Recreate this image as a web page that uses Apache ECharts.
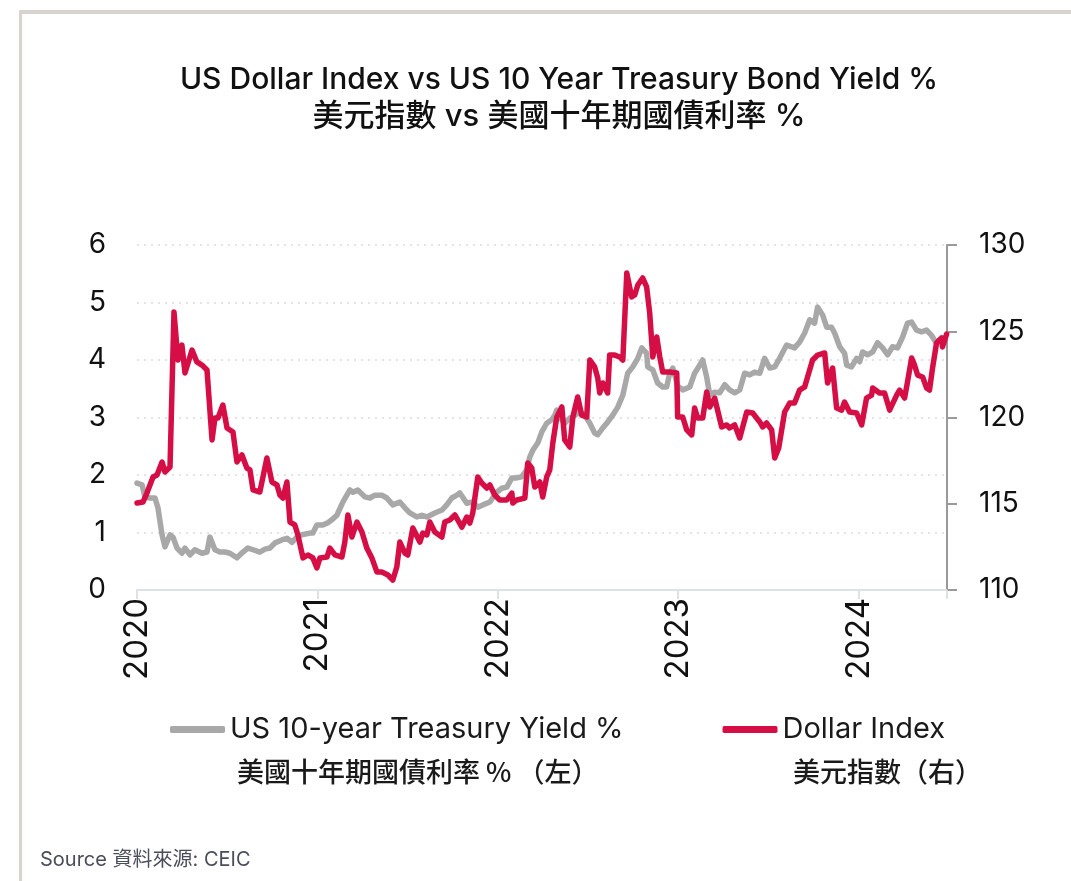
<!DOCTYPE html>
<html>
<head>
<meta charset="utf-8">
<script src="https://cdn.jsdelivr.net/npm/echarts@6/dist/echarts.min.js"></script>
<style>
  html, body { margin: 0; padding: 0; background: #fff; }
  #chart { width: 1071px; height: 881px; }
</style>
</head>
<body>
<div id="chart"></div>
<script>
// decimal-year positions and values
var yieldYears = [2020.000, 2020.028, 2020.044, 2020.072, 2020.100, 2020.116, 2020.139, 2020.155, 2020.183, 2020.199,
    2020.222, 2020.249, 2020.266, 2020.294, 2020.321, 2020.360, 2020.388, 2020.404, 2020.432, 2020.460,
    2020.488, 2020.515, 2020.554, 2020.587, 2020.615, 2020.643, 2020.681, 2020.709, 2020.737, 2020.765,
    2020.803, 2020.831, 2020.859, 2020.886, 2020.914, 2020.958, 2020.975, 2020.997, 2021.030, 2021.058,
    2021.080, 2021.108, 2021.141, 2021.180, 2021.197, 2021.224, 2021.263, 2021.291, 2021.319, 2021.357,
    2021.385, 2021.418, 2021.457, 2021.485, 2021.512, 2021.551, 2021.579, 2021.607, 2021.651, 2021.690,
    2021.717, 2021.745, 2021.773, 2021.789, 2021.828, 2021.861, 2021.889, 2021.917, 2021.956, 2021.994,
    2022.022, 2022.050, 2022.078, 2022.105, 2022.133, 2022.161, 2022.177, 2022.194, 2022.222, 2022.244,
    2022.271, 2022.299, 2022.316, 2022.327, 2022.343, 2022.371, 2022.399, 2022.416, 2022.454, 2022.482,
    2022.510, 2022.537, 2022.554, 2022.582, 2022.609, 2022.637, 2022.665, 2022.693, 2022.720, 2022.748,
    2022.776, 2022.798, 2022.825, 2022.831, 2022.859, 2022.886, 2022.914, 2022.936, 2022.953, 2022.970,
    2022.997, 2023.025, 2023.064, 2023.091, 2023.119, 2023.136, 2023.158, 2023.175, 2023.202, 2023.230,
    2023.258, 2023.285, 2023.313, 2023.341, 2023.368, 2023.396, 2023.424, 2023.452, 2023.479, 2023.507,
    2023.535, 2023.562, 2023.601, 2023.629, 2023.645, 2023.673, 2023.701, 2023.729, 2023.756, 2023.773,
    2023.801, 2023.823, 2023.850, 2023.867, 2023.895, 2023.922, 2023.934, 2023.961, 2023.989, 2024.006,
    2024.022, 2024.050, 2024.078, 2024.105, 2024.133, 2024.161, 2024.188, 2024.216, 2024.244, 2024.271,
    2024.294, 2024.321, 2024.349, 2024.377, 2024.404, 2024.427, 2024.449];
var yieldPct = [1.86, 1.83, 1.62, 1.60, 1.60, 1.43, 0.96, 0.75, 0.96, 0.92,
    0.73, 0.64, 0.73, 0.61, 0.70, 0.64, 0.66, 0.92, 0.70, 0.66,
    0.66, 0.64, 0.56, 0.66, 0.73, 0.70, 0.66, 0.71, 0.73, 0.82,
    0.87, 0.90, 0.83, 0.92, 0.96, 0.99, 0.99, 1.13, 1.13, 1.17,
    1.22, 1.30, 1.53, 1.74, 1.70, 1.74, 1.62, 1.60, 1.65, 1.65,
    1.60, 1.48, 1.53, 1.43, 1.34, 1.27, 1.30, 1.27, 1.34, 1.39,
    1.48, 1.60, 1.65, 1.69, 1.51, 1.53, 1.44, 1.48, 1.53, 1.70,
    1.77, 1.79, 1.95, 1.95, 1.97, 2.09, 2.31, 2.43, 2.56, 2.75,
    2.90, 2.96, 3.04, 3.13, 3.01, 2.90, 2.99, 3.01, 3.10, 3.04,
    2.90, 2.73, 2.70, 2.82, 2.92, 3.04, 3.18, 3.39, 3.77, 3.88,
    4.03, 4.21, 4.12, 3.88, 3.83, 3.60, 3.53, 3.53, 3.77, 3.86,
    3.55, 3.48, 3.53, 3.77, 3.91, 4.00, 3.70, 3.39, 3.44, 3.43,
    3.57, 3.48, 3.43, 3.48, 3.77, 3.74, 3.79, 3.77, 4.03, 3.86,
    3.88, 4.03, 4.26, 4.23, 4.21, 4.31, 4.47, 4.70, 4.64, 4.92,
    4.78, 4.57, 4.57, 4.47, 4.23, 4.12, 3.91, 3.88, 4.03, 3.97,
    4.14, 4.09, 4.14, 4.30, 4.21, 4.09, 4.23, 4.21, 4.40, 4.64,
    4.66, 4.52, 4.49, 4.52, 4.43, 4.31, 4.35];

var dollarYears = [2020.000, 2020.033, 2020.055, 2020.089, 2020.111, 2020.139, 2020.155, 2020.183, 2020.205, 2020.227,
    2020.249, 2020.266, 2020.305, 2020.332, 2020.360, 2020.388, 2020.416, 2020.432, 2020.449, 2020.476,
    2020.499, 2020.532, 2020.554, 2020.582, 2020.609, 2020.626, 2020.643, 2020.681, 2020.720, 2020.748,
    2020.776, 2020.792, 2020.809, 2020.831, 2020.848, 2020.875, 2020.892, 2020.920, 2020.947, 2020.975,
    2020.997, 2021.014, 2021.053, 2021.069, 2021.097, 2021.136, 2021.152, 2021.169, 2021.191, 2021.219,
    2021.247, 2021.274, 2021.302, 2021.330, 2021.357, 2021.391, 2021.418, 2021.440, 2021.457, 2021.485,
    2021.501, 2021.529, 2021.568, 2021.584, 2021.607, 2021.623, 2021.651, 2021.690, 2021.706, 2021.734,
    2021.762, 2021.801, 2021.828, 2021.845, 2021.861, 2021.889, 2021.911, 2021.939, 2021.956, 2021.983,
    2022.011, 2022.050, 2022.078, 2022.083, 2022.105, 2022.150, 2022.166, 2022.188, 2022.205, 2022.233,
    2022.249, 2022.271, 2022.288, 2022.305, 2022.327, 2022.355, 2022.371, 2022.399, 2022.416, 2022.443,
    2022.465, 2022.493, 2022.510, 2022.537, 2022.554, 2022.565, 2022.582, 2022.609, 2022.620, 2022.648,
    2022.676, 2022.693, 2022.715, 2022.742, 2022.759, 2022.776, 2022.803, 2022.825, 2022.842, 2022.859,
    2022.881, 2022.898, 2022.914, 2022.953, 2022.992, 2022.997, 2023.025, 2023.047, 2023.075, 2023.091,
    2023.108, 2023.136, 2023.158, 2023.175, 2023.202, 2023.241, 2023.269, 2023.285, 2023.313, 2023.341,
    2023.380, 2023.413, 2023.452, 2023.468, 2023.490, 2023.518, 2023.535, 2023.557, 2023.590, 2023.618,
    2023.645, 2023.673, 2023.701, 2023.717, 2023.745, 2023.773, 2023.812, 2023.828, 2023.856, 2023.878,
    2023.906, 2023.922, 2023.950, 2023.989, 2024.017, 2024.044, 2024.072, 2024.078, 2024.116, 2024.144,
    2024.172, 2024.211, 2024.227, 2024.255, 2024.271, 2024.294, 2024.310, 2024.327, 2024.355, 2024.377,
    2024.393, 2024.410, 2024.432, 2024.460, 2024.465, 2024.488];
var dollarIndex = [115.04, 115.10, 115.62, 116.55, 116.67, 117.42, 116.84, 117.13, 126.12, 123.33,
    124.20, 122.58, 123.91, 123.22, 123.04, 122.75, 118.70, 119.97, 119.97, 120.72,
    119.39, 119.16, 117.42, 117.83, 117.07, 116.96, 115.80, 115.68, 117.65, 116.26,
    116.09, 115.51, 115.33, 116.26, 113.94, 113.77, 113.19, 111.86, 112.03, 111.86,
    111.28, 111.86, 111.91, 112.43, 112.03, 111.91, 112.78, 114.35, 113.07, 113.94,
    113.36, 112.43, 111.86, 111.04, 111.04, 110.87, 110.58, 111.33, 112.78, 112.14,
    112.03, 113.59, 112.78, 113.30, 113.19, 113.94, 113.36, 113.07, 113.94, 114.06,
    114.35, 113.65, 114.23, 113.88, 114.46, 116.55, 116.20, 115.91, 116.09, 115.51,
    115.22, 115.22, 115.62, 115.04, 115.22, 115.33, 117.36, 117.07, 115.97, 116.26,
    115.39, 116.55, 116.96, 118.52, 120.03, 120.61, 118.70, 118.29, 120.03, 121.19,
    120.14, 120.03, 123.33, 122.93, 122.29, 121.42, 122.00, 121.42, 123.62, 123.62,
    123.51, 123.33, 128.38, 126.99, 127.10, 127.68, 128.09, 127.57, 126.06, 123.51,
    124.67, 123.51, 122.64, 122.64, 122.58, 120.03, 120.03, 119.28, 118.99, 120.55,
    119.97, 119.97, 121.48, 120.61, 121.13, 119.45, 119.57, 119.39, 119.57, 118.81,
    120.32, 120.26, 119.74, 119.45, 119.68, 119.28, 117.65, 118.23, 120.32, 120.84,
    120.84, 121.59, 121.77, 122.35, 123.33, 123.62, 123.74, 122.00, 122.87, 120.55,
    120.43, 120.90, 120.32, 120.26, 119.57, 121.13, 121.30, 121.71, 121.42, 121.42,
    120.43, 121.30, 121.59, 121.13, 122.06, 123.45, 123.04, 122.46, 122.35, 121.71,
    121.59, 122.87, 124.32, 124.61, 124.09, 124.84];

var yearTicks = [2020, 2021, 2022, 2023, 2024];
var leftTicks = [0, 1, 2, 3, 4, 5, 6];
var rightTicks = [110, 115, 120, 125, 130];

function zip(xs, ys) {
    var out = [];
    for (var i = 0; i < xs.length; i++) {
        out.push([xs[i], ys[i]]);
    }
    return out;
}

var latin = 'Inter, "Noto Sans CJK TC", sans-serif';
var cjk = '"Noto Sans CJK TC", Inter, sans-serif';

var myChart = echarts.init(document.getElementById('chart'));
var option = {
    animation: false,
    backgroundColor: '#fff',
    title: {
        text: 'US Dollar Index vs US 10 Year Treasury Bond Yield %\n{c|美元指數 vs 美國十年期國債利率 %}',
        left: 554,
        top: 56,
        textAlign: 'center',
        textStyle: {
            color: '#111',
            fontSize: 30,
            fontWeight: 500,
            lineHeight: 37,
            fontFamily: latin,
            rich: {
                c: {fontSize: 31, fontWeight: 500, color: '#111', lineHeight: 37, fontFamily: latin}
            }
        }
    },
    legend: {
        left: 170,
        top: 715,
        padding: 0,
        itemGap: 99,
        itemWidth: 55,
        itemHeight: 7,
        icon: 'roundRect',
        selectedMode: false,
        textStyle: {
            color: '#1a1a1a',
            fontSize: 29,
            fontFamily: latin
        },
        data: ['US 10-year Treasury Yield %', 'Dollar Index']
    },
    grid: {
        left: 137,
        right: 124,
        top: 245,
        bottom: 291
    },
    xAxis: {
        type: 'value',
        min: yearTicks[0],
        max: 2024.49,
        interval: 1,
        axisLine: {lineStyle: {color: '#dde1e8', width: 2}},
        axisTick: {show: true, length: 9, lineStyle: {color: '#dde1e8', width: 2}},
        axisLabel: {
            rotate: 90,
            margin: 8,
            color: '#111',
            fontSize: 33,
            fontFamily: latin,
            formatter: function (v) {
                return yearTicks.indexOf(v) >= 0 ? String(v) : '';
            }
        },
        splitLine: {show: false}
    },
    yAxis: [
        {
            type: 'value',
            min: leftTicks[0],
            max: leftTicks[leftTicks.length - 1],
            interval: 1,
            position: 'left',
            axisLine: {show: false},
            axisTick: {show: false},
            axisLabel: {margin: 31, color: '#111', fontSize: 28, fontFamily: latin},
            splitLine: {lineStyle: {color: '#e4e4e4', type: [2, 5], width: 2}}
        },
        {
            type: 'value',
            min: rightTicks[0],
            max: rightTicks[rightTicks.length - 1],
            interval: 5,
            position: 'right',
            axisLine: {show: true, lineStyle: {color: '#9a9a9a', width: 2}},
            axisTick: {show: true, inside: false, length: 10, lineStyle: {color: '#9a9a9a', width: 2}},
            axisLabel: {margin: 32, color: '#111', fontSize: 28, fontFamily: latin},
            splitLine: {show: false}
        }
    ],
    series: [
        {
            name: 'US 10-year Treasury Yield %',
            type: 'line',
            yAxisIndex: 0,
            showSymbol: false,
            color: '#a8a8a8',
            lineStyle: {width: 5.5, color: '#a8a8a8', join: 'round', cap: 'round'},
            z: 2,
            data: zip(yieldYears, yieldPct)
        },
        {
            name: 'Dollar Index',
            type: 'line',
            yAxisIndex: 1,
            showSymbol: false,
            color: '#d50f45',
            lineStyle: {width: 5.5, color: '#d50f45', join: 'round', cap: 'round'},
            z: 3,
            data: zip(dollarYears, dollarIndex)
        }
    ],
    graphic: [
        // beige frame on top and left
        {type: 'rect', shape: {x: 19, y: 10, width: 1060, height: 4}, style: {fill: '#d9d3ce'}, silent: true},
        {type: 'rect', shape: {x: 19, y: 10, width: 3, height: 880}, style: {fill: '#d9d3ce'}, silent: true},
        {
            type: 'text', left: 237, top: 758,
            style: {text: '美國十年期國債利率 % （左）', fill: '#1a1a1a', font: '500 27px ' + cjk}
        },
        {
            type: 'text', left: 793, top: 758,
            style: {text: '美元指數（右）', fill: '#1a1a1a', font: '500 27px ' + cjk}
        },
        {
            type: 'text', left: 40, top: 850,
            style: {text: 'Source 資料來源: CEIC', fill: '#4a4d5a', font: '20px ' + latin}
        }
    ]
};
myChart.setOption(option);
</script>
</body>
</html>
